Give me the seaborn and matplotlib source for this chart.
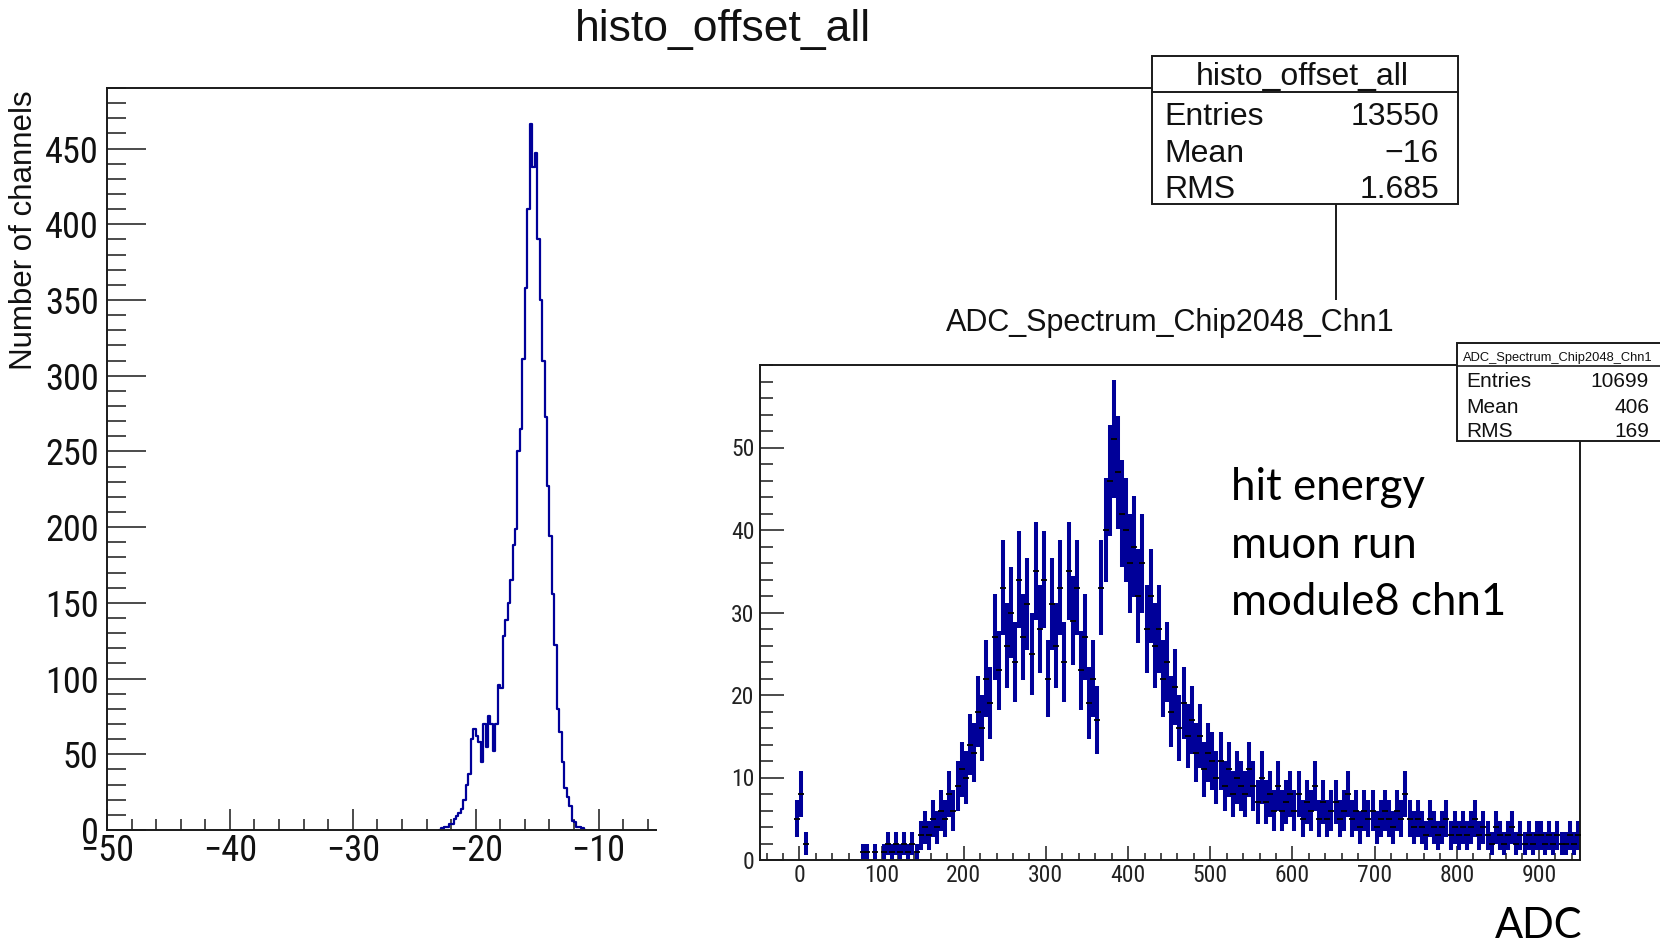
import numpy as np
import pandas as pd
import matplotlib
matplotlib.use("Agg")
import matplotlib.pyplot as plt
import seaborn as sns
from matplotlib import font_manager as fm
from matplotlib.ticker import MultipleLocator
from matplotlib.patches import Rectangle
from matplotlib.lines import Line2D

sns.set_theme(style="white")
plt.rcParams['font.family'] = ['Liberation Sans', 'DejaVu Sans']

# pick a condensed face for ROOT-like tick labels if one is installed
_fonts = fm.fontManager.ttflist
_names = {f.name for f in _fonts}
if 'Liberation Sans Narrow' in _names:
    COND = dict(family='Liberation Sans Narrow'); CSC = 1.0
elif 'Roboto Condensed' in _names:
    COND = dict(family='Roboto Condensed'); CSC = 0.97
elif any(f.name == 'DejaVu Sans' and 'condensed' in str(f.stretch) for f in _fonts):
    COND = dict(family='DejaVu Sans', fontstretch='condensed'); CSC = 0.85
else:
    COND = dict(family='Liberation Sans'); CSC = 0.84

# ---------------- data ----------------
# main histogram: offsets of all channels (bins of 0.2 starting at -23.0)
offset_bin_start = -23.0
offset_bin_width = 0.2
offset_counts = [0, 1, 2, 2, 4, 4, 7, 9, 11, 14, 20, 30, 37, 60, 67, 62, 58, 45, 70, 55,
                 75, 70, 52, 70, 96, 94, 128, 139, 150, 165, 188, 199, 250, 265, 311, 358,
                 410, 466, 438, 447, 390, 350, 310, 273, 227, 194, 156, 122, 80, 65, 45,
                 28, 22, 16, 6, 5, 2, 2, 1, 0]

main_title = "histo_offset_all"
main_ylabel = "Number of channels"
main_stats = [("Entries", "13550"), ("Mean", "\u221216"), ("RMS", "1.685")]
main_xticks = [-50, -40, -30, -20, -10]          # the rest of the axis is covered by the pasted picture
main_yticks = [0, 50, 100, 150, 200, 250, 300, 350, 400, 450]

# inset: ADC spectrum (counts per ADC channel, read in 5-ADC steps, starting at -5)
adc_bin_start = -5
adc_bin_width = 5
adc_counts = [5, 8, 2,
              0, 0, 0, 0, 0, 0, 0, 0, 0, 0, 0, 0, 0,
              1, 1, 0, 1, 0,
              1, 2, 1, 2, 1, 2, 1, 2, 1, 3,
              4, 3, 5, 4, 6, 5, 8, 6, 9, 11,
              10, 14, 13, 18, 16, 22, 19, 27, 23, 33,
              26, 30, 24, 34, 27, 31, 25, 35, 28, 34,
              22, 31, 26, 33, 24, 35, 29, 33, 23, 27,
              19, 22, 17, 33, 40, 46, 51, 47, 42, 40,
              36, 38, 32, 36, 28, 32, 26, 28, 22, 24,
              18, 21, 16, 19, 15, 17, 13, 15, 11, 13,
              12, 10, 12, 9, 11, 8, 10, 9, 8, 11,
              9, 7, 10, 7, 8, 6, 9, 6, 7, 8,
              6, 8, 5, 7, 6, 9, 5, 7, 5, 6,
              7, 5, 6, 8, 5, 6, 4, 6, 5, 6,
              4, 5, 6, 5, 4, 6, 5, 8, 5, 4,
              5, 4, 3, 5, 4, 3, 4, 5, 3, 4,
              3, 4, 3, 4, 5, 3, 4, 3, 2, 4,
              3, 2, 3, 4, 2, 3, 2, 3, 2, 3,
              3, 2, 3, 2, 3, 2, 2, 3, 2, 3]
inset_title = "ADC_Spectrum_Chip2048_Chn1"
inset_stats = [("Entries", "10699"), ("Mean", "406"), ("RMS", "169")]
inset_xticks = [0, 100, 200, 300, 400, 500, 600, 700, 800, 900]
inset_yticks = [0, 10, 20, 30, 40, 50]
notes = ["hit energy", "muon run", "module8 chn1"]
inset_xlabel = "ADC"

# ---------------- layout helpers ----------------
W, H = 1660, 944
def fx(x): return x / W
def fy(y): return 1 - y / H

fig = plt.figure(figsize=(W / 100, H / 100), dpi=100)
fig.patch.set_facecolor("white")

HCOL = "#000099"
FRAME = "#1a1a1a"
TXT = "#111111"

# ---------------- main axes ----------------
ax = fig.add_axes([fx(107), fy(830), fx(1336) - fx(107), fy(88) - fy(830)])
ax.set_facecolor("white")
n_off = len(offset_counts)
edge_lo = offset_bin_start
edge_hi = offset_bin_start + offset_bin_width * n_off
centers = edge_lo + offset_bin_width * (np.arange(n_off) + 0.5)
df_off = pd.DataFrame({"offset": centers, "n": offset_counts})
sns.histplot(data=df_off, x="offset", weights="n", bins=n_off, binrange=(edge_lo, edge_hi),
             element="step", fill=False, color=HCOL, linewidth=1.6, ax=ax)
ax.set_xlim(-50, 50)
ax.set_ylim(0, 490)
ax.set_xlabel("")
ax.set_ylabel("")
ax.set_xticks(main_xticks)
ax.set_yticks(main_yticks)
ax.xaxis.set_minor_locator(MultipleLocator(2))
ax.yaxis.set_minor_locator(MultipleLocator(10))
ax.tick_params(which="both", direction="in", color=FRAME, width=1.1,
               bottom=True, left=True, top=False, right=False)
ax.tick_params(axis="y", which="major", length=28, pad=6)
ax.tick_params(axis="y", which="minor", length=14)
ax.tick_params(axis="x", which="major", length=15, pad=2)
ax.tick_params(axis="x", which="minor", length=8)
for lab in ax.get_xticklabels() + ax.get_yticklabels():
    lab.set(**COND)
    lab.set_fontsize(27 * CSC)
    lab.set_color(TXT)
for s in ax.spines.values():
    s.set_color(FRAME)
    s.set_linewidth(1.4)

fig.text(fx(723), fy(41), main_title, ha="center", va="baseline", fontsize=32, color=TXT)
fig.text(fx(24), fy(90), main_ylabel, rotation=90, ha="center", va="top", fontsize=22.5,
         color=TXT)

# main stats box
fig.patches.append(Rectangle((fx(1152), fy(204)), fx(1458) - fx(1152), fy(56) - fy(204),
                             transform=fig.transFigure, facecolor="white", edgecolor=FRAME,
                             linewidth=1.4, zorder=3))
fig.lines.append(Line2D([fx(1152), fx(1458)], [fy(92), fy(92)], transform=fig.transFigure,
                        color=FRAME, linewidth=1.4, zorder=4))
fig.text(fx(1302), fy(85), main_title, ha="center", va="baseline", fontsize=23, zorder=5,
         color=TXT)
for (lab, val), yb in zip(main_stats, [125, 162, 198]):
    fig.text(fx(1164), fy(yb), lab, ha="left", va="baseline", fontsize=23, zorder=5, color=TXT)
    fig.text(fx(1439), fy(yb), val, ha="right", va="baseline", fontsize=23, zorder=5, color=TXT)

# white cover of the pasted second picture
fig.patches.append(Rectangle((fx(657), 0), 1 - fx(657), fy(300), transform=fig.transFigure,
                             facecolor="white", edgecolor="none", zorder=1))

# ---------------- inset axes ----------------
ins = fig.add_axes([fx(760), fy(860), fx(1580) - fx(760), fy(365) - fy(860)])
ins.set_zorder(2)
ins.set_facecolor("white")
a_counts = np.array(adc_counts, dtype=float)
a_centers = adc_bin_start + adc_bin_width * np.arange(len(a_counts)) + adc_bin_width / 2
df_adc = pd.DataFrame({"adc": a_centers, "n": a_counts, "err": np.sqrt(a_counts)})
nz = df_adc[df_adc["n"] > 0]
ins.vlines(nz["adc"], nz["n"] - nz["err"], nz["n"] + nz["err"], color=HCOL, linewidth=2.9)
sns.scatterplot(data=nz, x="adc", y="n", marker="_", color="black", s=18, linewidth=1.3,
                ax=ins, zorder=3)
ins.set_xlim(-48, 950)
ins.set_ylim(0, 60)
ins.set_xlabel("")
ins.set_ylabel("")
ins.set_xticks(inset_xticks)
ins.set_yticks(inset_yticks)
ins.xaxis.set_minor_locator(MultipleLocator(20))
ins.yaxis.set_minor_locator(MultipleLocator(2))
ins.tick_params(which="both", direction="in", color=FRAME, width=1.1,
                bottom=True, left=True, top=False, right=False)
ins.tick_params(axis="y", which="major", length=17, pad=4)
ins.tick_params(axis="y", which="minor", length=9)
ins.tick_params(axis="x", which="major", length=10, pad=3)
ins.tick_params(axis="x", which="minor", length=5)
for lab in ins.get_xticklabels() + ins.get_yticklabels():
    lab.set(**COND)
    lab.set_fontsize(17 * min(1.0, CSC + 0.12))
    lab.set_color("#222222")
for s in ins.spines.values():
    s.set_color(FRAME)
    s.set_linewidth(1.4)

fig.text(fx(1170), fy(331), inset_title, ha="center", va="baseline", fontsize=22, color=TXT)

# inset stats box
fig.patches.append(Rectangle((fx(1457), fy(441)), 1.0 - fx(1457) + 0.01, fy(343) - fy(441),
                             transform=fig.transFigure, facecolor="white", edgecolor=FRAME,
                             linewidth=1.4, zorder=3))
fig.lines.append(Line2D([fx(1457), 1.0], [fy(366), fy(366)], transform=fig.transFigure,
                        color=FRAME, linewidth=1.2, zorder=4))
fig.text(fx(1558), fy(361), inset_title, ha="center", va="baseline", fontsize=9.3,
         zorder=5, color=TXT)
for (lab, val), yb in zip(inset_stats, [387, 413, 437]):
    fig.text(fx(1466), fy(yb), lab, ha="left", va="baseline", fontsize=15, zorder=5, color=TXT)
    fig.text(fx(1649), fy(yb), val, ha="right", va="baseline", fontsize=15, zorder=5, color=TXT)

# slide annotations
for t, yb in zip(notes, [500, 558, 615]):
    fig.text(fx(1231), fy(yb), t, ha="left", va="baseline", fontsize=31.5, family="Lato",
             color="black", zorder=6)
fig.text(fx(1495), fy(938), inset_xlabel, ha="left", va="baseline", fontsize=30, family="Lato",
         color="black", zorder=6)

fig.savefig("out.png", dpi=100, facecolor="white")
